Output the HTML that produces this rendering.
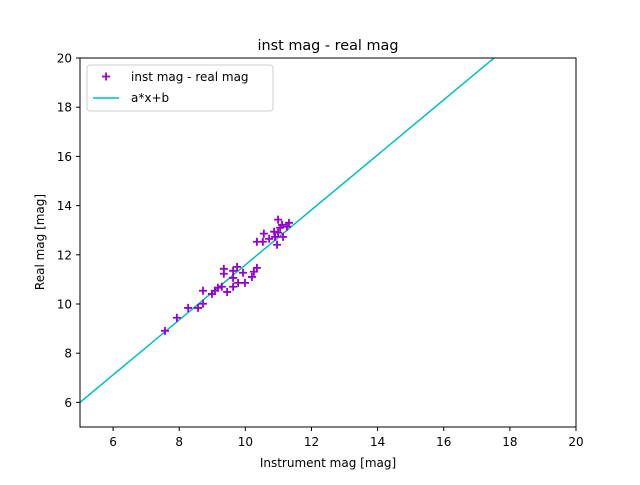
<!DOCTYPE html>
<html><head><meta charset="utf-8"><style>
body{margin:0;background:#fff}
svg text{font-family:"DejaVu Sans","Liberation Sans",sans-serif;fill:#000}
</style></head><body>
<svg id="chart" width="640" height="480" viewBox="0 0 640 480" xmlns="http://www.w3.org/2000/svg">
<rect width="640" height="480" fill="#fff"/>
<text x="328" y="50" font-size="14.4" text-anchor="middle">inst mag - real mag</text>
<g id="plot"></g>
<rect x="80" y="58" width="496" height="369" fill="none" stroke="#000" stroke-width="1"/>
<g id="ticks"></g>
<text x="328" y="467" font-size="12" text-anchor="middle">Instrument mag [mag]</text>
<text transform="translate(44,242) rotate(-90)" font-size="12" text-anchor="middle">Real mag [mag]</text>
<g>
<rect x="87" y="65" width="186" height="46" rx="3" fill="#fff" fill-opacity="0.8" stroke="#ccc"/>
<path d="M102 76.5h8M106 72.5v8" stroke="#9400d3" stroke-width="1.8"/>
<text x="131" y="81" font-size="12">inst mag - real mag</text>
<line x1="93" y1="98" x2="119" y2="98" stroke="#00bfbf" stroke-width="1.5"/>
<text x="131" y="102" font-size="12">a*x+b</text>
</g>
</svg>
<script>
const xs=[7.57,7.93,8.27,8.57,8.72,8.72,8.99,9.08,9.17,9.29,9.45,9.35,9.35,9.63,9.75,9.63,9.78,9.99,9.63,9.93,10.20,10.26,10.35,10.35,10.53,10.56,10.72,10.96,10.87,10.99,11.05,11.14,11.11,11.26,10.90,10.99,11.32];
const ys=[8.91,9.44,9.84,9.84,10.01,10.54,10.41,10.54,10.66,10.70,10.49,11.43,11.23,11.35,11.51,11.06,10.86,10.86,10.70,11.27,11.10,11.31,11.47,12.53,12.53,12.86,12.65,12.41,12.94,13.43,13.10,12.73,13.22,13.14,12.73,12.90,13.30];
const fitA=1.118, fitB=0.41;
const xTicks=[6,8,10,12,14,16,18,20];
const yTicks=[6,8,10,12,14,16,18,20];
const X=v=>80+(v-5)*496/15, Y=v=>427-(v-5)*369/15;
const NS="http://www.w3.org/2000/svg";
const plot=document.getElementById('plot'), ticks=document.getElementById('ticks');
const cp=document.createElementNS(NS,'clipPath');cp.id='clip';
const cr=document.createElementNS(NS,'rect');cr.setAttribute('x',80);cr.setAttribute('y',58);cr.setAttribute('width',496);cr.setAttribute('height',369);cp.appendChild(cr);plot.appendChild(cp);
const ln=document.createElementNS(NS,'line');


ln.setAttribute('x1',X(5));ln.setAttribute('y1',Y(fitA*5+fitB));ln.setAttribute('x2',X(20));ln.setAttribute('y2',Y(fitA*20+fitB));
ln.setAttribute('stroke','#00bfbf');ln.setAttribute('stroke-width','1.5');ln.setAttribute('clip-path','url(#clip)');
plot.appendChild(ln);
xs.forEach((x,i)=>{const p=document.createElementNS(NS,'path');


const cx=X(x),cy=Y(ys[i]);p.setAttribute('d',`M${cx-4} ${cy}h8M${cx} ${cy-4}v8`);p.setAttribute('stroke','#9400d3');p.setAttribute('stroke-width','1.8');plot.appendChild(p);});
xTicks.forEach(t=>{const l=document.createElementNS(NS,'line');


l.setAttribute('x1',X(t));l.setAttribute('x2',X(t));l.setAttribute('y1',427);l.setAttribute('y2',431);l.setAttribute('stroke','#000');ticks.appendChild(l);
const tx=document.createElementNS(NS,'text');


tx.setAttribute('x',X(t));tx.setAttribute('y',446);tx.setAttribute('font-size','12');tx.setAttribute('text-anchor','middle');tx.textContent=t;ticks.appendChild(tx);});
yTicks.forEach(t=>{const l=document.createElementNS(NS,'line');


l.setAttribute('x1',76);l.setAttribute('x2',80);l.setAttribute('y1',Y(t));l.setAttribute('y2',Y(t));l.setAttribute('stroke','#000');ticks.appendChild(l);
const tx=document.createElementNS(NS,'text');


tx.setAttribute('x',72);tx.setAttribute('y',Y(t)+4.5);tx.setAttribute('font-size','12');tx.setAttribute('text-anchor','end');tx.textContent=t;ticks.appendChild(tx);});
</script>
</body></html>
